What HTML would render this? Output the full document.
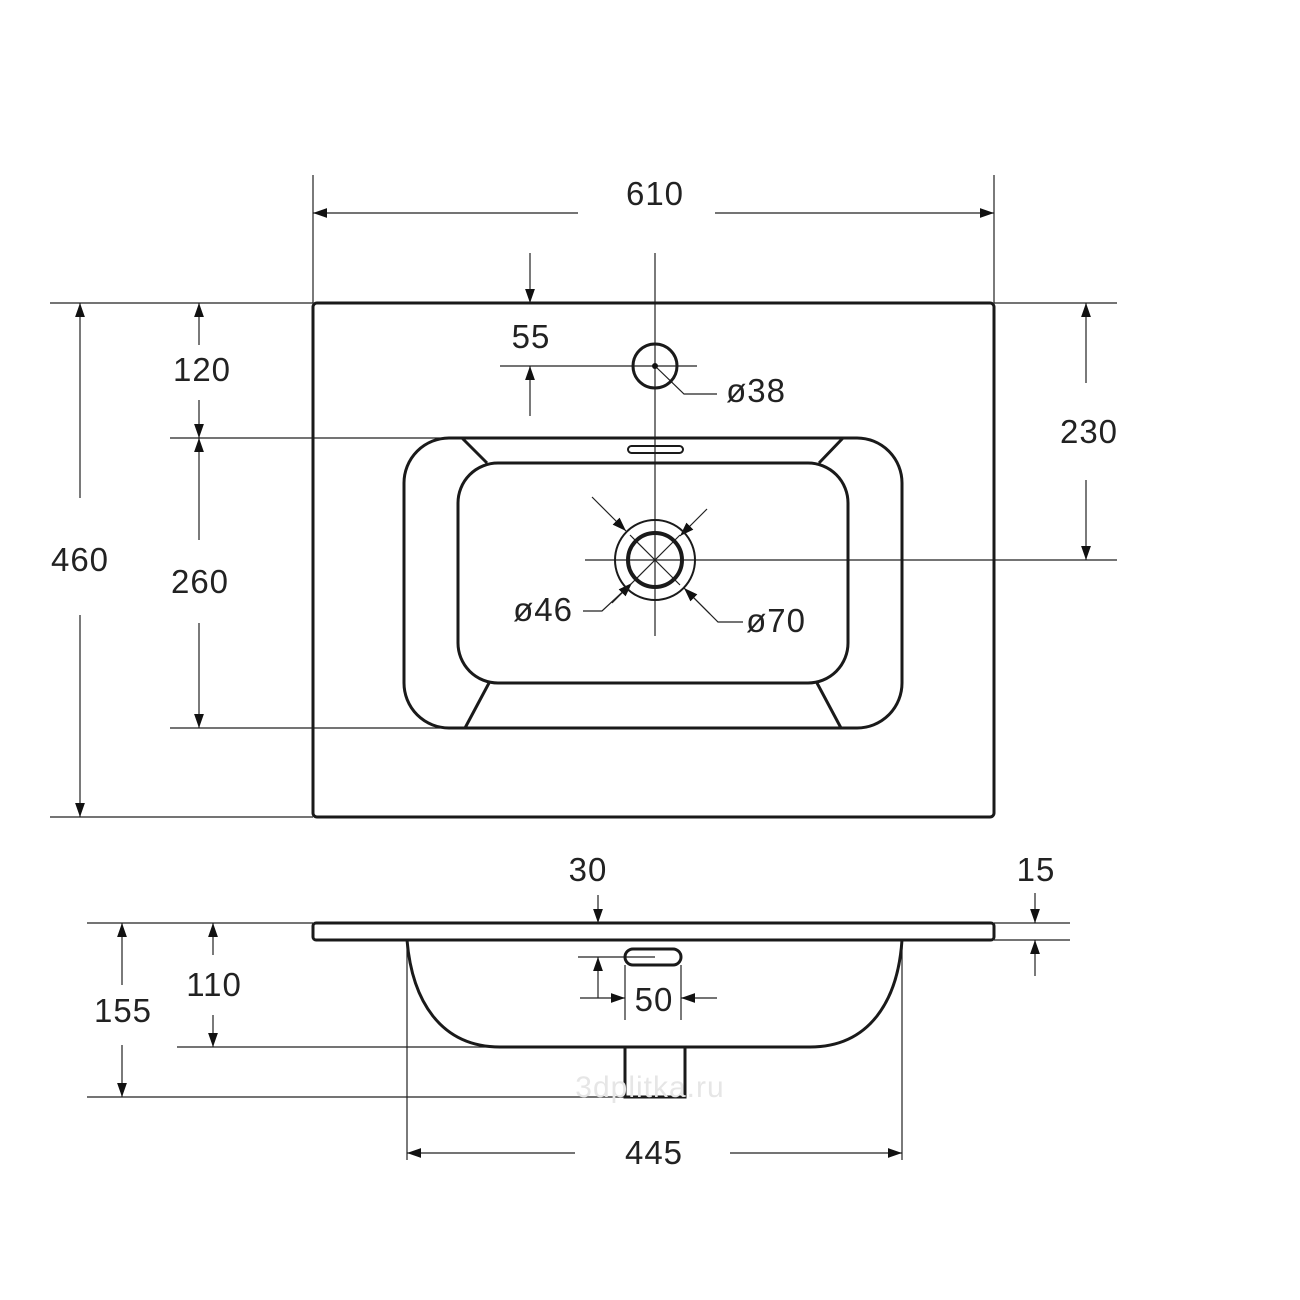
<!DOCTYPE html>
<html><head><style>html,body{margin:0;padding:0;background:#fff}svg{display:block}</style></head>
<body>
<svg width="1300" height="1300" viewBox="0 0 1300 1300" xmlns="http://www.w3.org/2000/svg">
<defs>
<marker id="a" viewBox="0 0 10 10" refX="10" refY="5" markerWidth="14" markerHeight="14" markerUnits="userSpaceOnUse" orient="auto"><path d="M0,1.5 L10,5 L0,8.5 z" fill="#111"/></marker>
</defs>
<g stroke="#222" stroke-width="1.2" fill="none">
<line x1="313" y1="175" x2="313" y2="303"/><line x1="994" y1="175" x2="994" y2="303"/>
<line x1="50" y1="303" x2="313" y2="303"/><line x1="50" y1="817" x2="313" y2="817"/>
<line x1="170" y1="438" x2="440" y2="438"/><line x1="170" y1="728" x2="440" y2="728"/>
<line x1="994" y1="303" x2="1117" y2="303"/>
<line x1="655" y1="253" x2="655" y2="636"/>
<line x1="585" y1="560" x2="1117" y2="560"/>
<line x1="500" y1="366" x2="697" y2="366"/>
<line x1="578" y1="213" x2="313" y2="213" marker-end="url(#a)"/><line x1="715" y1="213" x2="994" y2="213" marker-end="url(#a)"/>
<line x1="80" y1="498" x2="80" y2="303" marker-end="url(#a)"/><line x1="80" y1="615" x2="80" y2="817" marker-end="url(#a)"/>
<line x1="199" y1="345" x2="199" y2="303" marker-end="url(#a)"/><line x1="199" y1="400" x2="199" y2="438" marker-end="url(#a)"/>
<line x1="199" y1="540" x2="199" y2="438" marker-end="url(#a)"/><line x1="199" y1="623" x2="199" y2="728" marker-end="url(#a)"/>
<line x1="530" y1="253" x2="530" y2="303" marker-end="url(#a)"/><line x1="530" y1="416" x2="530" y2="366" marker-end="url(#a)"/>
<line x1="1086" y1="383" x2="1086" y2="303" marker-end="url(#a)"/><line x1="1086" y1="480" x2="1086" y2="560" marker-end="url(#a)"/>
<polyline points="717,394 684,394 655,366"/>
<line x1="592" y1="497" x2="626" y2="531" marker-end="url(#a)"/>
<line x1="707" y1="509" x2="680" y2="536" marker-end="url(#a)"/>
<polyline points="583,611 602,611 630,585" /><line x1="612" y1="603" x2="632" y2="583" marker-end="url(#a)"/>
<polyline points="743,622 718,622 690,594"/><line x1="710" y1="614" x2="684" y2="588" marker-end="url(#a)"/>
<line x1="630" y1="535" x2="680" y2="585"/><line x1="680" y1="535" x2="630" y2="585"/>
<line x1="598" y1="895" x2="598" y2="923" marker-end="url(#a)"/>
<line x1="994" y1="923" x2="1070" y2="923"/><line x1="994" y1="940" x2="1070" y2="940"/>
<line x1="1035" y1="893" x2="1035" y2="923" marker-end="url(#a)"/><line x1="1035" y1="976" x2="1035" y2="940" marker-end="url(#a)"/>
<line x1="87" y1="923" x2="313" y2="923"/><line x1="87" y1="1097" x2="625" y2="1097"/>
<line x1="177" y1="1047" x2="495" y2="1047"/>
<line x1="213" y1="955" x2="213" y2="923" marker-end="url(#a)"/><line x1="213" y1="1015" x2="213" y2="1047" marker-end="url(#a)"/>
<line x1="122" y1="985" x2="122" y2="923" marker-end="url(#a)"/><line x1="122" y1="1045" x2="122" y2="1097" marker-end="url(#a)"/>
<line x1="578" y1="957" x2="655" y2="957"/>
<line x1="598" y1="998" x2="598" y2="957" marker-end="url(#a)"/>
<line x1="580" y1="998" x2="625" y2="998" marker-end="url(#a)"/><line x1="717" y1="998" x2="681" y2="998" marker-end="url(#a)"/>
<line x1="625" y1="965" x2="625" y2="1020"/><line x1="681" y1="965" x2="681" y2="1020"/>
<line x1="407" y1="940" x2="407" y2="1160"/><line x1="902" y1="940" x2="902" y2="1160"/>
<line x1="575" y1="1153" x2="407" y2="1153" marker-end="url(#a)"/><line x1="730" y1="1153" x2="902" y2="1153" marker-end="url(#a)"/>
</g>
<g stroke="#1a1a1a" stroke-width="3" fill="none">
<rect x="313" y="303" width="681" height="514" rx="4"/>
<rect x="404" y="438" width="498" height="290" rx="45"/>
<rect x="458" y="463" width="390" height="220" rx="40"/>
<line x1="462" y1="438" x2="487" y2="463"/><line x1="843" y1="438" x2="819" y2="463"/>
<line x1="489" y1="683" x2="465" y2="728"/><line x1="817" y1="683" x2="841" y2="728"/>
<rect x="628" y="446" width="55" height="7" rx="3.5" stroke-width="2"/>
<circle cx="655" cy="366" r="22"/>
<circle cx="655" cy="560" r="27" stroke-width="4"/>
<circle cx="655" cy="560" r="40" stroke-width="2"/>
<rect x="313" y="923" width="681" height="17" rx="3"/>
<path d="M407,940 C412,1000 440,1047 500,1047 L810,1047 C870,1047 898,1000 902,940"/>
<polyline points="625,1047 625,1097 685,1097 685,1047"/>
<rect x="625" y="949" width="56" height="16" rx="8"/>
</g>
<circle cx="655" cy="366" r="3" fill="#111"/>
<g font-family="'Liberation Sans',sans-serif" font-size="33" fill="#222" text-anchor="middle" letter-spacing="1">
<text x="655" y="205">610</text>
<text x="80" y="571">460</text>
<text x="202" y="381">120</text>
<text x="200" y="593">260</text>
<text x="531" y="348">55</text>
<text x="1089" y="443">230</text>
<text x="756" y="402">ø38</text>
<text x="543" y="621">ø46</text>
<text x="776" y="632">ø70</text>
<text x="588" y="881">30</text>
<text x="1036" y="881">15</text>
<text x="214" y="996">110</text>
<text x="123" y="1022">155</text>
<text x="654" y="1011">50</text>
<text x="654" y="1164">445</text>
<text x="650" y="1097" fill="#e6e6e6" font-size="30">3dplitka.ru</text>
</g>
</svg>
</body></html>
